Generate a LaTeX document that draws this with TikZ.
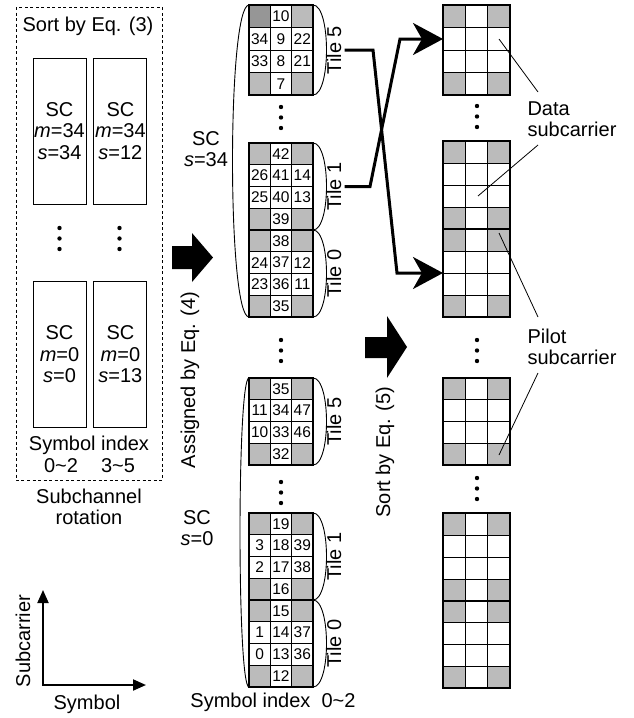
\documentclass[tikz,border=0pt]{standalone}
\usepackage{fontspec}
\setmainfont{Liberation Sans}
\usetikzlibrary{arrows.meta,positioning,calc}

\definecolor{pilotgray}{RGB}{187,187,187}
\definecolor{pilotdark}{RGB}{150,150,150}

% one 3x4 tile: left x, top y, bottom y, cell width
\newcommand{\tilegrid}[4]{%
  \pgfmathsetmacro{\rowh}{(#3-#2)/4}
  \foreach \c in {0,2}
    \foreach \r in {0,3}
      \fill[pilotgray] ({#1+\c*#4},{#2+\r*\rowh}) rectangle ++(#4,\rowh);
  \foreach \c in {1,2}
    \draw[cellline] ({#1+\c*#4},#2) -- ({#1+\c*#4},#3);
  \foreach \r in {1,2,3}
    \draw[cellline] (#1,{#2+\r*\rowh}) -- ({#1+3*#4},{#2+\r*\rowh});
  \draw[tileframe] (#1,#2) rectangle ({#1+3*#4},#3);
}
% three dots going down from (x,y)
\newcommand{\tridots}[2]{%
  \foreach \dy in {0,10.5,21}
    \fill ({#1},{#2+\dy}) circle (2.2pt);
}

\begin{document}
\begin{tikzpicture}[
    x=1pt, y=-1pt,
    font=\fontsize{20}{21.5}\selectfont,
    cellline/.style={line width=0.9pt},
    tileframe/.style={line width=2.4pt},
    num/.style={font=\fontsize{15.5}{15.5}\selectfont, inner sep=0pt},
    scbox/.style={draw, line width=0.9pt, minimum width=53pt, minimum height=146pt, inner sep=0pt, align=center},
    tilelbl/.style={rotate=90, inner sep=3pt},
    sidebrace/.style={line width=0.9pt},
    route/.style={line width=3pt, -{Stealth[length=30pt,width=32pt,inset=9pt]}},
    callout/.style={line width=0.8pt},
    axis/.style={line width=2pt, {Triangle[length=13pt,width=11pt]}-{Triangle[length=13pt,width=11pt]}},
    bigarrow/.style={fill=black}
]
    \useasboundingbox (0,0) rectangle (633,718);

    % subchannel rotation
    \draw[line width=0.8pt, dash pattern=on 3pt off 2.5pt] (16,7) rectangle (162,480);
    \node (sort3) at (88,26) {Sort by Eq. (3)};
    \node[scbox] (sctl) at (59.5,131) {SC\\\textit{m}=34\\\textit{s}=34};
    \node[scbox, right=7pt of sctl] (sctr) {SC\\\textit{m}=34\\\textit{s}=12};
    \node[scbox] (scbl) at (59.5,354.5) {SC\\\textit{m}=0\\\textit{s}=0};
    \node[scbox, right=7pt of scbl] (scbr) {SC\\\textit{m}=0\\\textit{s}=13};
    \tridots{59.5}{228}
    \tridots{119.5}{228}
    \node (symidx) at (89,445) {Symbol index};
    \node (rng02) at (61,466) {0\textasciitilde 2};
    \node (rng35) at (118,466) {3\textasciitilde 5};
    \node[align=center] (subrot) at (89,507) {Subchannel\\rotation};

    % axes
    \coordinate (org) at (43,685);
    \coordinate (ytip) at (43,590);
    \coordinate (xtip) at (146,685);
    \draw[axis] (ytip) -- (org) -- (xtip);
    \node[rotate=90] (subc) at (23,641) {Subcarrier};
    \node (symb) at (87,704) {Symbol};

    % assigned by Eq. (4)
    \fill[bigarrow] (172,246) -- (192,246) -- (192,233) -- (213,257.5) -- (192,282) -- (192,269) -- (172,269) -- cycle;
    \node[rotate=90] (asg4) at (190,380) {Assigned by Eq. (4)};

    % tiles with subcarrier indices
    \foreach \tp/\bt/\tn/\va/\vb/\vc/\vd/\ve/\vf/\vg/\vh [count=\k] in {
        5/95/5/10/34/9/22/33/8/21/7,
        143/230/1/42/26/41/14/25/40/13/39,
        230/317/0/38/24/37/12/23/36/11/35,
        378/465/5/35/11/34/47/10/33/46/32,
        513/600/1/19/3/18/39/2/17/38/16,
        600/687/0/15/1/14/37/0/13/36/12}{
      \tilegrid{249}{\tp}{\bt}{21.33}
      \foreach \c/\r/\v [count=\j] in {1/0/\va,0/1/\vb,1/1/\vc,2/1/\vd,0/2/\ve,1/2/\vf,2/2/\vg,1/3/\vh}
        \node[num] (m\k-\j) at ({249+(\c+0.5)*21.33},{\tp+(\r+0.5)*(\bt-\tp)/4}) {\v};
      \draw[sidebrace] (313,\tp) .. controls (331,\tp) and (331,\bt) .. (313,\bt);
      \node[tilelbl] (tile\k) at (334,{(\tp+\bt)/2}) {Tile \tn};
    }
    \fill[pilotdark] (250.2,6.2) rectangle (269.9,27.05);
    \tridots{281}{107}
    \tridots{281}{340}
    \tridots{281}{482}
    \draw[sidebrace] (249,5) .. controls (227,5) and (227,317) .. (249,317);
    \draw[sidebrace] (249,378) .. controls (237,378) and (237,687) .. (249,687);
    \node[align=center] (scs34) at (206,149) {SC\\\textit{s}=34};
    \node[align=center] (scs0) at (197,528) {SC\\\textit{s}=0};
    \node (symidx2) at (273,702) {Symbol index\ \ 0\textasciitilde 2};

    % sort by Eq. (5)
    \fill[bigarrow] (365,337) -- (387,337) -- (387,316) -- (407,347) -- (387,378) -- (387,358) -- (365,358) -- cycle;
    \node[rotate=90] (sort5) at (385,452) {Sort by Eq. (5)};

    % sorted tiles
    \foreach \tp/\bt [count=\k] in {5/95,141/229,229/317,378/465,513/601,601/688}
      \tilegrid{443}{\tp}{\bt}{22.33};
    \tridots{477}{106}
    \tridots{477}{340}
    \tridots{477}{478}

    % tile mapping
    \coordinate (inA) at (443,273);
    \coordinate (inB) at (443,39);
    \draw[route] (tile1.south) -- (373,50) -- (397,273) -- (inA);
    \draw[route] (tile2.south) -- (370,186.5) -- (400,39) -- (inB);

    % callouts
    \node[align=left, anchor=west] (datalbl) at (524,119) {Data\\subcarrier};
    \node[align=left, anchor=west] (pilotlbl) at (524,347) {Pilot\\subcarrier};
    \coordinate (dcell1) at (499,39);
    \coordinate (dcell2) at (478,196);
    \coordinate (pcell1) at (499,233);
    \coordinate (pcell2) at (499,455);
    \draw[callout] (dcell1) -- (538,92);
    \draw[callout] (538,145) -- (dcell2);
    \draw[callout] (pcell1) -- (538,317);
    \draw[callout] (538,373) -- (pcell2);
\end{tikzpicture}
\end{document}
